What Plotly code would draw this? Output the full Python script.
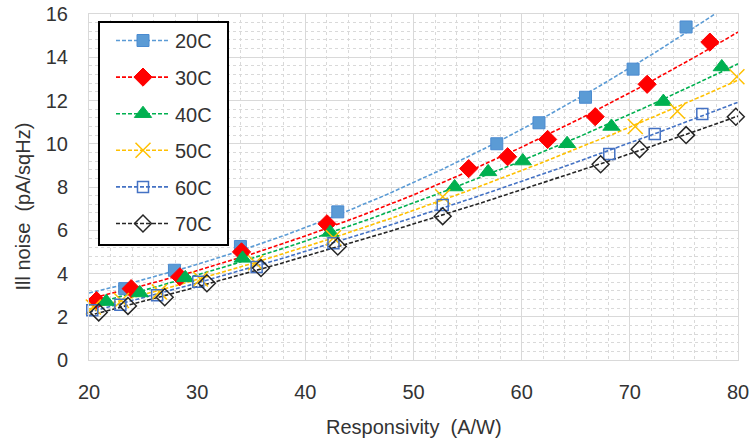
import numpy as np
import plotly.graph_objects as go

# ---- data ----
series_names = ["20C", "30C", "40C", "50C", "60C", "70C"]

x_20C = [23.3, 27.9, 34.0, 43.0, 57.7, 61.6, 65.9, 70.3, 75.2]
y_20C = [3.3, 4.15, 5.25, 6.85, 10.0, 10.97, 12.15, 13.45, 15.4]

x_30C = [20.7, 23.9, 28.4, 34.1, 42.0, 55.1, 58.7, 62.4, 66.8, 71.6, 77.4]
y_30C = [2.75, 3.3, 3.85, 5.0, 6.3, 8.85, 9.4, 10.2, 11.25, 12.75, 14.7]

x_40C = [21.6, 24.7, 28.9, 34.2, 42.3, 53.8, 56.9, 60.1, 64.2, 68.3, 73.1, 78.5]
y_40C = [2.7, 3.1, 3.8, 4.7, 5.9, 8.0, 8.7, 9.2, 10.0, 10.8, 11.95, 13.55]

x_50C = [20.4, 23.0, 26.5, 30.3, 35.4, 42.6, 52.7, 70.5, 74.4, 79.9]
y_50C = [2.45, 2.75, 3.15, 3.75, 4.5, 5.65, 7.55, 10.8, 11.5, 13.1]

x_60C = [20.3, 22.9, 26.3, 30.1, 35.5, 42.6, 52.7, 68.1, 72.3, 76.7]
y_60C = [2.3, 2.55, 3.0, 3.62, 4.3, 5.4, 7.17, 9.53, 10.45, 11.37]

x_70C = [20.9, 23.6, 27.0, 30.9, 35.9, 43.0, 52.7, 67.3, 70.9, 75.2, 79.8]
y_70C = [2.2, 2.5, 2.9, 3.55, 4.25, 5.25, 6.65, 9.05, 9.75, 10.4, 11.25]

x_ticks = [20, 30, 40, 50, 60, 70, 80]
y_ticks = [0, 2, 4, 6, 8, 10, 12, 14, 16]

xs_all = [x_20C, x_30C, x_40C, x_50C, x_60C, x_70C]
ys_all = [y_20C, y_30C, y_40C, y_50C, y_60C, y_70C]

# ---- styles ----
styles = [
    dict(symbol="square", color="#5B9BD5", line="#4A8AD0", size=12, lc="#5B9BD5"),
    dict(symbol="diamond", color="#FF0000", line="#FF0000", size=14, lc="#FF0000"),
    dict(symbol="triangle-up", color="#00B050", line="#00B050", size=15, lc="#00B050"),
    dict(symbol="x-thin-open", color="#FFC000", line="#FFC000", size=15, lc="#FFC000"),
    dict(symbol="square-open", color="#4472C4", line="#4472C4", size=11, lc="#4472C4"),
    dict(symbol="diamond-open", color="#262626", line="#262626", size=13, lc="#262626"),
]

FONT = "Liberation Sans, Arial, sans-serif"
TXT = "#333333"

# plot-area geometry in pixels (used for paper-coordinate placement)
W, H = 749, 442
ML, MR, MT, MB = 89, 11, 14, 82
PW, PH = W - ML - MR, H - MT - MB


def px_x(p):
    return (p - ML) / PW


def px_y(p):
    return (H - MB - p) / PH


fig = go.Figure()
xfit = np.linspace(20, 80, 241)

# trendlines (2nd order fit of each series, like the spreadsheet's trendline)
for name, xv, yv, st in zip(series_names, xs_all, ys_all, styles):
    c = np.polyfit(xv, yv, 2)
    fig.add_trace(go.Scatter(
        x=xfit, y=np.polyval(c, xfit), mode="lines",
        line=dict(color=st["lc"], width=1.6, dash="4px,2px"),
        showlegend=False, hoverinfo="skip"))

# markers
for name, xv, yv, st in zip(series_names, xs_all, ys_all, styles):
    open_sym = "open" in st["symbol"]
    fig.add_trace(go.Scatter(
        x=xv, y=yv, mode="markers", name=name, showlegend=False,
        cliponaxis=False,
        marker=dict(symbol=st["symbol"], size=st["size"], color=st["color"],
                    line=dict(color=st["line"], width=1.5 if open_sym else 1))))

# legend entries
for i, (name, st) in enumerate(zip(series_names, styles)):
    open_sym = "open" in st["symbol"]
    fig.add_trace(go.Scatter(
        x=[None], y=[None], mode="lines+markers", name=name,
        legendgroup=name,
        line=dict(color=st["lc"], width=1.6, dash="4px,2px"),
        marker=dict(symbol=st["symbol"], size=st["size"], color=st["color"],
                    line=dict(color=st["line"], width=1.5 if open_sym else 1))))

grid = "#D9D9D9"
fig.update_layout(
    width=W, height=H,
    margin=dict(l=ML, r=MR, t=MT, b=MB, autoexpand=False),
    paper_bgcolor="white", plot_bgcolor="white",
    font=dict(family=FONT, size=20, color=TXT),
    legend=dict(x=px_x(111), y=px_y(21), xanchor="left", yanchor="top",
                bgcolor="rgba(0,0,0,0)", borderwidth=0,
                font=dict(family=FONT, size=20, color=TXT),
                itemwidth=54, traceorder="grouped", tracegroupgap=7.6),
    xaxis=dict(range=[20, 80], tickvals=x_ticks, showgrid=True, gridcolor=grid,
               gridwidth=1, zeroline=False, showline=True, linecolor=grid,
               mirror=True, ticks="", ticklabelstandoff=14, automargin=False,
               ticklabeloverflow="allow",
               minor=dict(dtick=2, showgrid=True, gridcolor=grid, griddash="dot")),
    yaxis=dict(range=[0, 16], tickvals=y_ticks, showgrid=True, gridcolor=grid,
               gridwidth=1, zeroline=False, showline=True, linecolor=grid,
               mirror=True, ticks="", ticklabelstandoff=16, automargin=False,
               ticklabeloverflow="allow",
               minor=dict(dtick=0.4, showgrid=True, gridcolor=grid, griddash="dot")),
    shapes=[dict(type="rect", xref="paper", yref="paper",
                 x0=px_x(99), x1=px_x(228), y0=px_y(245), y1=px_y(22),
                 fillcolor="white", line=dict(color="#000000", width=2),
                 layer="above")],
    annotations=[
        dict(text="Responsivity  (A/W)", xref="paper", yref="paper",
             x=0.5, y=px_y(427), xanchor="center", yanchor="middle",
             showarrow=False, font=dict(family=FONT, size=20, color=TXT)),
        dict(text="Ill noise  (pA/sqHz)", xref="paper", yref="paper",
             x=px_x(22.5), y=px_y(207), xanchor="center", yanchor="middle",
             textangle=-90, showarrow=False,
             font=dict(family=FONT, size=20, color=TXT)),
    ],
)

fig.write_html(
    "out.html",
    config={"displayModeBar": False},
    post_script="document.body.style.margin='0';document.body.style.padding='0';",
)
